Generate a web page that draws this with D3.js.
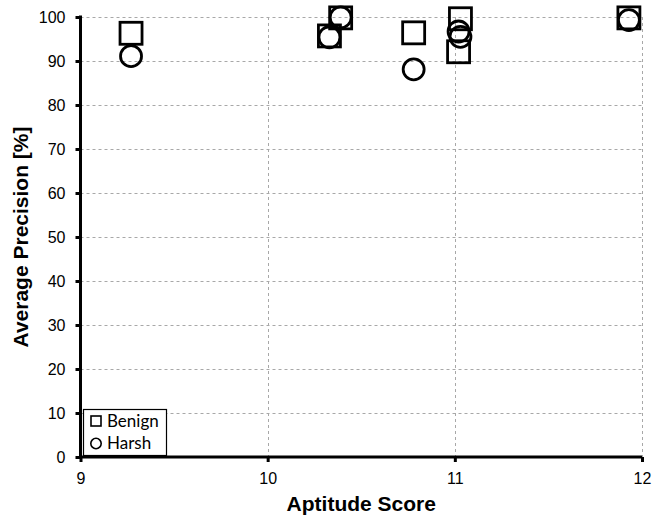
<!DOCTYPE html>
<html>
<head>
<meta charset="utf-8">
<script src="https://cdn.jsdelivr.net/npm/d3@7"></script>
<style>
  html, body { margin: 0; padding: 0; background: #fff; }
  svg { display: block; }
</style>
</head>
<body>
<svg id="chart" width="653" height="518"></svg>
<script>
// ---- data ----
const benignX = [9.27, 10.39, 10.33, 10.78, 11.03, 11.02, 11.93];
const benignY = [96.3, 99.8, 95.7, 96.4, 99.6, 92.1, 99.8];
const harshX = [9.27, 10.39, 10.33, 10.78, 11.02, 11.03, 11.93];
const harshY = [91.1, 99.9, 95.4, 88.1, 96.7, 95.5, 99.3];
const xTicks = [9, 10, 11, 12];
const yTicks = [0, 10, 20, 30, 40, 50, 60, 70, 80, 90, 100];
const seriesNames = ["Benign", "Harsh"];
const xTitle = "Aptitude Score";
const yTitle = "Average Precision [%]";

// ---- layout ----
const svg = d3.select("#chart");
const L = 80.5, R = 642, T = 17, B = 457;
const x = d3.scaleLinear().domain([9, 12]).range([L, R]);
const y = d3.scaleLinear().domain([0, 100]).range([B, T]);

svg.append("rect").attr("width", 653).attr("height", 518).attr("fill", "#fff");

// gridlines
const grid = svg.append("g").attr("stroke", "#a8a8a8").attr("stroke-width", 1)
  .attr("stroke-dasharray", "3,3").attr("fill", "none");
yTicks.filter(d => d > 0).forEach(d => {
  grid.append("line").attr("x1", L).attr("x2", R)
    .attr("y1", Math.round(y(d)) + 0.5).attr("y2", Math.round(y(d)) + 0.5);
});
xTicks.filter(d => d > 9).forEach(d => {
  grid.append("line").attr("y1", T).attr("y2", B)
    .attr("x1", Math.round(x(d)) + 0.5).attr("x2", Math.round(x(d)) + 0.5);
});

// axes
const xAxis = d3.axisBottom(x).tickValues(xTicks).tickSize(5).tickPadding(10).tickFormat(d3.format("d"));
const yAxis = d3.axisLeft(y).tickValues(yTicks).tickSize(5).tickPadding(10).tickFormat(d3.format("d"));

const gx = svg.append("g").attr("transform", `translate(0,${B})`).call(xAxis);
const gy = svg.append("g").attr("transform", `translate(${L},0)`).call(yAxis);
[gx, gy].forEach(g => {
  g.select(".domain").attr("stroke", "#000").attr("stroke-width", 3);
  g.selectAll(".tick line").attr("stroke", "#000").attr("stroke-width", 3);
  g.selectAll(".tick text").attr("fill", "#000")
    .style("font-family", "'Liberation Sans', Arial, sans-serif").style("font-size", "16px");
});
gx.select(".domain").attr("d", `M${L},0H${R}`);
gy.select(".domain").attr("d", `M0,${B + 1.5}V${T - 1.5}`);
gx.selectAll(".tick text").attr("dy", "0.71em").attr("y", 16);
gy.selectAll(".tick text").attr("x", -15);

// axis titles
svg.append("text").attr("x", (L + R) / 2).attr("y", 511)
  .attr("text-anchor", "middle")
  .style("font-family", "'Liberation Sans', Arial, sans-serif")
  .style("font-size", "21px").style("font-weight", "bold")
  .text(xTitle);
svg.append("text")
  .attr("transform", `translate(28,${(T + B) / 2}) rotate(-90)`)
  .attr("text-anchor", "middle")
  .style("font-family", "'Liberation Sans', Arial, sans-serif")
  .style("font-size", "21px").style("font-weight", "bold")
  .text(yTitle);

// markers
const side = 22, rad = 10.5;
const pts = svg.append("g").attr("fill", "none").attr("stroke", "#000").attr("stroke-width", 2.8);
benignX.forEach((bx, i) => {
  pts.append("rect")
    .attr("x", x(bx) - side / 2).attr("y", y(benignY[i]) - side / 2)
    .attr("width", side).attr("height", side);
});
harshX.forEach((hx, i) => {
  pts.append("circle").attr("cx", x(hx)).attr("cy", y(harshY[i])).attr("r", rad);
});

// legend
const lg = svg.append("g");
lg.append("rect").attr("x", 83.5).attr("y", 409.5).attr("width", 83).attr("height", 46)
  .attr("fill", "#fff").attr("stroke", "#000").attr("stroke-width", 1.2);
lg.append("rect").attr("x", 91).attr("y", 416).attr("width", 10).attr("height", 10)
  .attr("fill", "none").attr("stroke", "#000").attr("stroke-width", 1.6);
lg.append("circle").attr("cx", 96).attr("cy", 443.5).attr("r", 5.2)
  .attr("fill", "none").attr("stroke", "#000").attr("stroke-width", 1.6);
seriesNames.forEach((s, i) => {
  lg.append("text").attr("x", 107).attr("y", 427 + i * 22)
    .style("font-family", "Lato, 'Open Sans', sans-serif").style("font-size", "17px")
    .attr("fill", "#000").text(s);
});
</script>
</body>
</html>
